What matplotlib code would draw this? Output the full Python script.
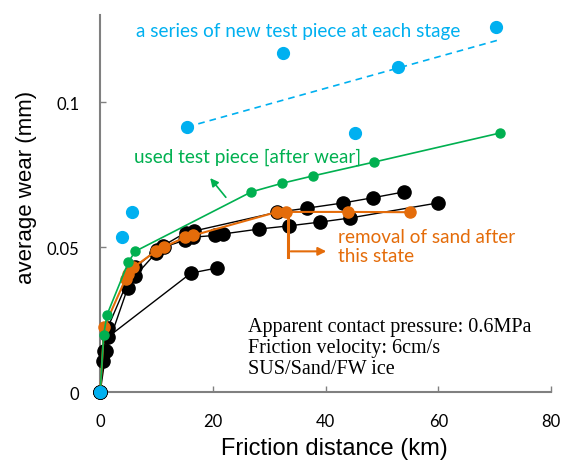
import matplotlib
matplotlib.use("Agg")
import matplotlib.pyplot as plt

# ---- data ----
blue_x = [0, 3.9, 5.7, 15.4, 32.4, 45.2, 52.9, 70.2]
blue_y = [0, 0.0534, 0.062, 0.0914, 0.117, 0.0893, 0.112, 0.126]
trend_x = [15.4, 70.7]
trend_y = [0.0914, 0.1214]

green_x = [0, 0.6, 1.2, 5.0, 6.2, 26.8, 32.3, 37.7, 48.6, 70.9]
green_y = [0, 0.0196, 0.0266, 0.0448, 0.0485, 0.069, 0.072, 0.0745, 0.0793, 0.0893]

blackA_x = [0, 0.6, 1.3, 5.5, 6.2, 10.0, 11.2, 15.2, 16.6, 31.4, 36.7, 43.1, 48.4, 53.9]
blackA_y = [0, 0.014, 0.022, 0.041, 0.043, 0.049, 0.0505, 0.055, 0.0555, 0.062, 0.0634, 0.0652, 0.067, 0.069]
blackB_x = [0, 0.5, 1.0, 4.9, 6.2, 9.9, 11.3, 15.1, 16.5, 20.4, 21.8, 28.2, 33.5, 39.0, 44.3, 59.9]
blackB_y = [0, 0.0107, 0.0141, 0.036, 0.040, 0.048, 0.050, 0.0524, 0.0534, 0.054, 0.0545, 0.0562, 0.0573, 0.0586, 0.060, 0.0652]
blackC_x = [0, 1.4, 16.1, 20.8]
blackC_y = [0, 0.019, 0.041, 0.0428]

orange_x = [0, 0.7, 4.5, 5.0, 5.9, 9.9, 11.3, 15.1, 16.5, 31.4, 33.0, 44.0, 55.0]
orange_y = [0, 0.0224, 0.039, 0.0407, 0.043, 0.0486, 0.050, 0.0534, 0.054, 0.0621, 0.0621, 0.0621, 0.062]

xticks = [0, 20, 40, 60, 80]
yticks = [0, 0.05, 0.1]
yticklabels = ["0", "0.05", "0.1"]

BLUE = "#00B0F0"
GREEN = "#00B050"
ORANGE = "#E46C0A"
GRAY = "#808080"

fig = plt.figure(figsize=(5.63, 4.64), dpi=100)
ax = fig.add_axes([0.178, 0.153, 0.801, 0.8125])

for bx, by in [(blackC_x, blackC_y), (blackB_x, blackB_y), (blackA_x, blackA_y)]:
    ax.plot(bx, by, color="black", lw=1.0, marker="o", ms=9.5, zorder=3, clip_on=False)
ax.plot(orange_x, orange_y, color=ORANGE, lw=1.5, marker="o", ms=8, zorder=4, clip_on=False)
ax.plot(green_x, green_y, color=GREEN, lw=1.2, marker="o", ms=6.5, zorder=5, clip_on=False)
ax.plot(trend_x, trend_y, color=BLUE, lw=1.2, ls=(0, (4, 3)), zorder=2)
ax.plot(blue_x, blue_y, ls="none", color=BLUE, marker="o", ms=8.5, zorder=6, clip_on=False)

ax.set_xlim(0, 80)
ax.set_ylim(0, 0.13)
ax.set_xticks(xticks)
ax.set_yticks(yticks)
ax.set_yticklabels(yticklabels)
for s in ["top", "right"]:
    ax.spines[s].set_visible(False)
for s in ["left", "bottom"]:
    ax.spines[s].set_color(GRAY)
    ax.spines[s].set_linewidth(1.5)
ax.tick_params(direction="in", length=4, color=GRAY, width=1, labelsize=12)
ax.tick_params(axis="x", pad=15)
ax.tick_params(axis="y", pad=15)
for lab in ax.get_xticklabels() + ax.get_yticklabels():
    lab.set_fontfamily("Lato")

ax.set_xlabel("Friction distance (km)", fontsize=17, family="Liberation Sans")
ax.xaxis.set_label_coords(0.52, -0.12)
ax.set_ylabel("average wear (mm)", fontsize=16, family="Liberation Sans")
ax.yaxis.set_label_coords(-0.14, 0.546)

ax.text(6.3, 0.1245, "a series of new test piece at each stage", color=BLUE,
        fontsize=13.6, family="Lato", va="center", ha="left")
ax.text(6.0, 0.0813, "used test piece [after wear]", color=GREEN,
        fontsize=13.6, family="Lato", va="center", ha="left")
ax.annotate("", xy=(19.2, 0.0745), xytext=(22.6, 0.0664),
            arrowprops=dict(arrowstyle="-|>", color=GREEN, lw=1.2, mutation_scale=12))
ax.text(42.2, 0.0504, "removal of sand after\nthis state", color=ORANGE,
        fontsize=13.6, family="Lato", va="center", ha="left", linespacing=1.15)
ax.plot([33.3, 33.3], [0.0621, 0.0465], color=ORANGE, lw=2.2, zorder=3)
ax.annotate("", xy=(40.6, 0.0485), xytext=(33.3, 0.0485),
            arrowprops=dict(arrowstyle="-|>", color=ORANGE, lw=1.5, mutation_scale=12))

ax.text(26.3, 0.0048, "Apparent contact pressure: 0.6MPa\nFriction velocity: 6cm/s\nSUS/Sand/FW ice",
        fontsize=14.5, family="Liberation Serif", va="bottom", ha="left", linespacing=1.13)

fig.savefig("out.png", dpi=100)
